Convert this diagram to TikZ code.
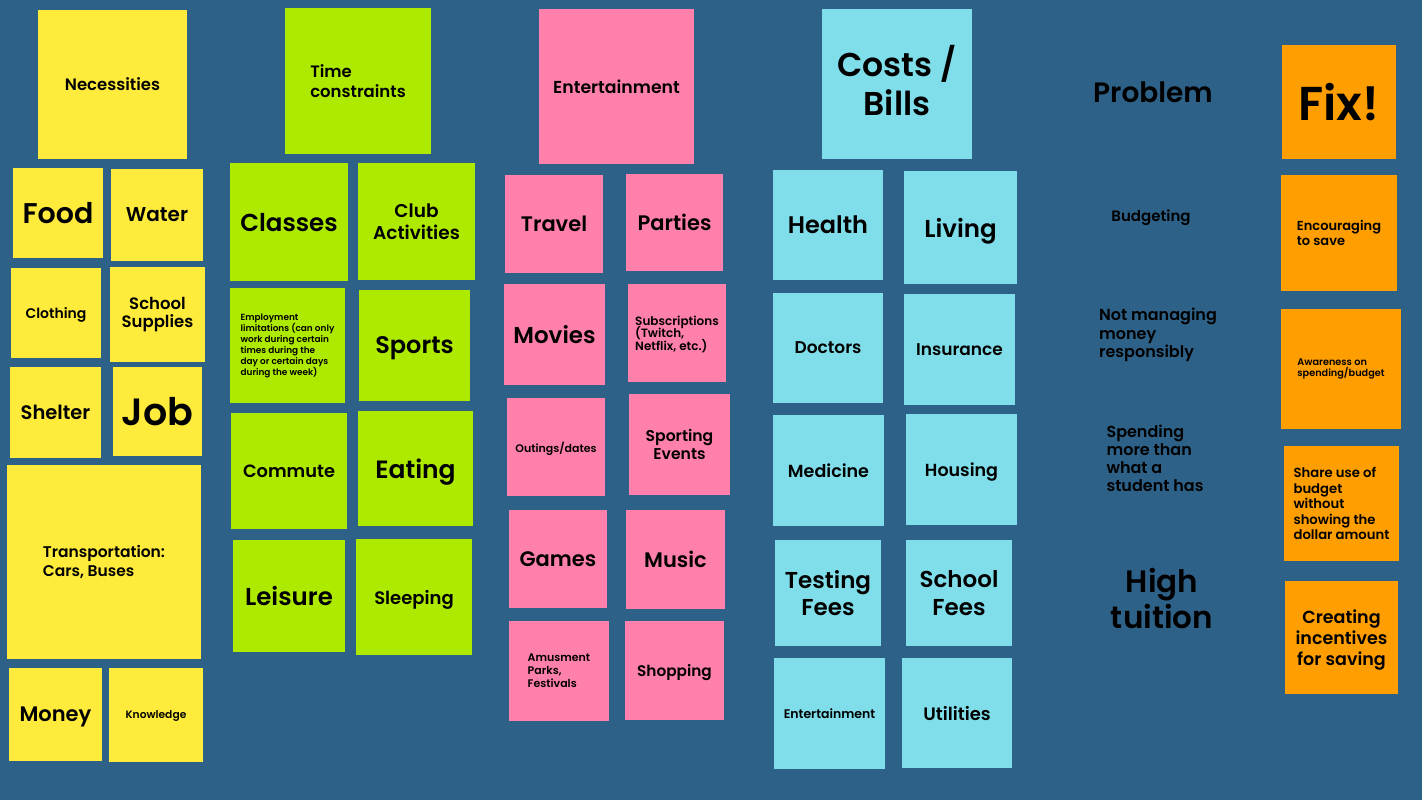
\documentclass[tikz,border=0pt]{standalone}
\usepackage{fontspec}
\setmainfont{Poppins}[UprightFont=* SemiBold, BoldFont=* Bold]
\definecolor{bg}{HTML}{2E6187}
\definecolor{yel}{HTML}{FFEB3B}
\definecolor{grn}{HTML}{AEEA00}
\definecolor{pnk}{HTML}{FF80AB}
\definecolor{cyn}{HTML}{80DEEA}
\definecolor{org}{HTML}{FF9E00}
\newcommand\fs[2]{\fontsize{#1}{#2}\selectfont\lineskip=0pt\lineskiplimit=-100pt\relax}
% name, x1, y1, x2, y2, options, text
\newcommand\stick[7]{%
  \node[note,#6,minimum width={#4-#2},minimum height={#5-#3}] (#1) at ({(#2+#4)/2},{(#3+#5)/2}) {#7};}
\begin{document}
\begin{tikzpicture}[x=1pt,y=-1pt,
  note/.style={rectangle,inner sep=0pt,outer sep=0pt,draw=none,text=black},
  one/.style={text depth=0pt},
  Y/.style={fill=yel}, G/.style={fill=grn}, P/.style={fill=pnk},
  C/.style={fill=cyn}, O/.style={fill=org},
  plain/.style={inner sep=0pt,text=black}]
\fill[bg] (0,0) rectangle (1422,800);
\useasboundingbox (0,0) rectangle (1422,800);
% yellow: necessities
\stick{necessities}{38}{10}{187}{159}{Y,one,font=\fs{16.5}{19}}{Necessities}
\stick{food}{13}{168}{103}{258}{Y,one,font=\fs{28.5}{32}}{Food}
\stick{water}{111}{169}{203}{261}{Y,one,font=\fs{20}{23}}{Water}
\stick{clothing}{11}{268}{101}{358}{Y,one,font=\fs{14}{16}}{Clothing}
\stick{supplies}{110}{267}{205}{362}{Y,align=center,font=\fs{16.5}{18}}{School\\Supplies}
\stick{shelter}{10}{367}{101}{458}{Y,one,font=\fs{19.5}{22}}{Shelter}
\stick{job}{113}{367}{202}{456}{Y,one,font=\fs{38}{42}}{Job}
\stick{transport}{7}{465}{201}{659}{Y,align=left,font=\fs{15.5}{19}}{Transportation:\\Cars, Buses}
\stick{money}{9}{668}{102}{761}{Y,one,font=\fs{21}{24}}{Money}
\stick{knowledge}{109}{668}{203}{762}{Y,one,font=\fs{10.7}{13}}{Knowledge}
% green: time constraints
\stick{time}{285}{8}{431}{154}{G,align=left,font=\fs{16.5}{20}}{Time\\constraints}
\stick{classes}{230}{163}{348}{281}{G,one,font=\fs{24.5}{28}}{Classes}
\stick{club}{358}{163}{475}{280}{G,align=center,font=\fs{18.5}{21.5}}{Club\\Activities}
\stick{employ}{230}{288}{345}{403}{G,align=left,font=\fs{8.9}{11}}{Employment\\limitations (can only\\work during certain\\times during the\\day or certain days\\during the week)}
\stick{sports}{359}{290}{470}{401}{G,one,font=\fs{24}{27}}{Sports}
\stick{commute}{231}{413}{347}{529}{G,one,font=\fs{17.8}{21}}{Commute}
\stick{eating}{358}{411}{473}{526}{G,one,font=\fs{25}{28}}{Eating}
\stick{leisure}{233}{540}{345}{652}{G,one,font=\fs{24.5}{28}}{Leisure}
\stick{sleeping}{356}{539}{472}{655}{G,one,font=\fs{18}{21}}{Sleeping}
% pink: entertainment
\stick{ent}{539}{9}{694}{164}{P,one,font=\fs{17.3}{20}}{Entertainment}
\stick{travel}{505}{175}{603}{273}{P,one,font=\fs{21}{24}}{Travel}
\stick{parties}{626}{174}{723}{271}{P,one,font=\fs{21}{24}}{Parties}
\stick{movies}{504}{284}{605}{385}{P,one,font=\fs{23}{26}}{Movies}
\stick{subs}{628}{284}{726}{382}{P,align=left,text depth=0pt,font=\fs{12}{12.7}}{Subscriptions\\(Twitch,\\Netflix, etc.)}
\stick{outings}{507}{398}{605}{496}{P,one,font=\fs{11}{13}}{Outings/dates}
\stick{sporting}{629}{394}{730}{495}{P,align=center,font=\fs{15.6}{18}}{Sporting\\Events}
\stick{games}{509}{510}{607}{608}{P,one,font=\fs{21}{24}}{Games}
\stick{music}{626}{510}{725}{609}{P,one,font=\fs{21}{24}}{Music}
\stick{amus}{509}{621}{609}{721}{P,align=left,font=\fs{11}{13}}{Amusment\\Parks,\\Festivals}
\stick{shopping}{625}{621}{724}{720}{P,one,font=\fs{15.3}{18}}{Shopping}
% cyan: costs / bills
\stick{costs}{822}{9}{972}{159}{C,align=center,text depth=7pt,font=\fs{33}{39}}{Costs /\\Bills}
\stick{health}{773}{170}{883}{280}{C,one,font=\fs{24}{27}}{Health}
\stick{living}{904}{171}{1017}{284}{C,one,font=\fs{24.5}{28}}{Living}
\stick{doctors}{773}{293}{883}{403}{C,one,font=\fs{17}{20}}{Doctors}
\stick{insurance}{904}{294}{1015}{405}{C,one,font=\fs{17}{20}}{Insurance}
\stick{medicine}{773}{415}{884}{526}{C,one,font=\fs{17.5}{20}}{Medicine}
\stick{housing}{906}{414}{1017}{525}{C,one,font=\fs{17.5}{20}}{Housing}
\stick{testing}{775}{540}{881}{646}{C,align=center,font=\fs{23}{27.5}}{Testing\\Fees}
\stick{schoolfees}{906}{540}{1012}{646}{C,align=center,font=\fs{23}{27.5}}{School\\Fees}
\stick{ent2}{774}{658}{885}{769}{C,one,font=\fs{12.5}{14}}{Entertainment}
\stick{utilities}{902}{658}{1012}{768}{C,one,font=\fs{18}{21}}{Utilities}
% problem column
\node[plain,one,font=\fs{28}{31}] (problem) at (1153,92) {Problem};
\node[plain,one,font=\fs{15}{17}] (budgeting) at (1151,216) {Budgeting};
\node[plain,align=left,font=\fs{16}{18.5}] (notmanaging) at (1158,335) {Not managing\\money\\responsibly};
\node[plain,align=left,font=\fs{16}{18}] (spending) at (1155,458) {Spending\\more than\\what a\\student has};
\node[plain,align=center,font=\fs{31}{36}] (high) at (1162,598) {High\\tuition};
% orange: fix
\stick{fix}{1282}{45}{1396}{159}{O,one,font=\fs{47.5}{52}}{Fix!}
\stick{encourage}{1281}{175}{1397}{291}{O,align=left,font=\fs{13}{14.5}}{Encouraging\\to save}
\stick{aware}{1281}{309}{1401}{429}{O,align=left,font=\fs{9.7}{11}}{Awareness on\\spending/budget}
\stick{share}{1284}{446}{1399}{561}{O,align=left,font=\fs{13.2}{15.5}}{Share use of\\budget\\without\\showing the\\dollar amount}
\stick{creating}{1285}{581}{1398}{694}{O,align=center,text depth=0pt,font=\fs{17.5}{21}}{Creating\\incentives\\for saving}
\end{tikzpicture}
\end{document}
